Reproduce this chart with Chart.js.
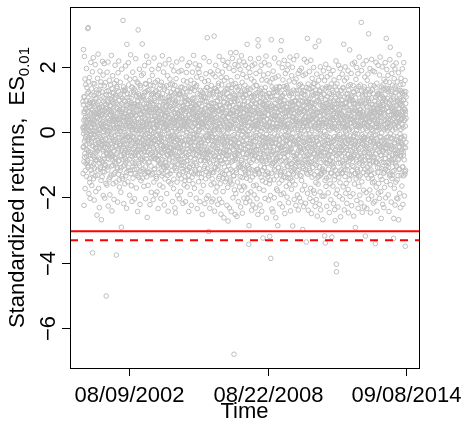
<!DOCTYPE html>
<html>
<head>
<meta charset="utf-8">
<script src="https://cdn.jsdelivr.net/npm/chart.js@4.4.1/dist/chart.umd.min.js"></script>
<style>
  html, body { margin: 0; padding: 0; background: #fff; }
  canvas { display: block; }
</style>
</head>
<body>
<canvas id="esChart" width="463" height="421"></canvas>
<script>
// odd trading days (50 days per line)
const dayStep = 2;
const returns = [
  0.93, -1.27, 0.16, 2.52, -0.44, 1.08, -2.24, 0.63, 2.31, -0.77, 0.14, 1.62, -1.73, 0.37, -0.21, 1.45, -0.96, 0.68, -0.53, 1.94, -1.36, 0.27, 0.04, -0.92, 1.18,
  0.47, 3.16, -1.08, 0.84, 3.19, -0.26, 1.53, -1.88, 0.24, -0.73, 1.66, 0.91, -1.54, 0.38, -2.03, 0.97, 0.13, -0.62, 2.13, -1.17, 0.58, -0.06, 1.32, -1.63, 0.29,
  -0.41, 1.84, -3.69, 0.66, -1.04, 0.23, 2.27, -1.43, 0.86, -0.18, 1.12, -2.08, 0.52, -0.79, 1.47, 0.02, -1.34, 2.06, -0.48, 0.83, -1.82, 0.31, 1.19, -0.87, 0.57,
  1.03, -2.54, 0.42, -0.57, 1.64, -1.16, 0.18, 2.38, -0.33, 0.94, -1.72, 0.61, -0.07, 1.28, -2.31, 0.73, -0.84, 1.86, 0.08, -1.13, 0.49, -0.36, 1.42, -1.48, 0.26,
  -2.68, 0.77, -0.24, 1.23, -1.37, 0.54, 2.16, -0.93, 0.12, 1.74, -1.94, 0.43, -0.59, 1.04, -0.27, 2.09, -1.22, 0.64, -2.02, 0.88, 0.17, -1.03, 1.51, -0.46, 0.72,
  0.28, -5.01, 1.14, -0.66, 0.61, -1.62, 1.83, 0.03, -1.07, 0.92, -0.38, 2.14, -2.26, 0.41, 1.27, -0.83, 0.24, -1.44, 1.58, -0.17, 0.66, -1.92, 1.02, -0.64, 0.53,
  1.43, -0.52, 0.79, -1.31, 2.34, -0.08, 0.62, -2.41, 0.98, -0.74, 0.33, 1.72, -1.02, 0.47, -1.58, 1.21, -0.28, 0.87, -2.06, 0.13, 1.49, -0.92, 0.39, -1.24, 2.04,
  -0.23, 1.13, -0.82, 0.46, -1.53, 0.89, -3.76, 1.57, -0.43, 0.19, 1.34, -1.08, 0.71, -2.14, 0.03, 1.81, -0.58, 0.42, -1.29, 2.17, -0.88, 0.63, 0.97, -1.68, 0.27,
  0.82, -1.18, 1.52, -0.34, 0.43, -1.84, 1.07, -0.71, -2.91, 0.58, 1.92, -0.49, 0.22, -1.43, 1.03, -0.12, 0.69, 3.41, -1.04, 0.32, 1.38, -2.19, 0.48, -0.63, 1.24,
  -0.37, 0.94, -1.58, 1.27, 0.11, -0.82, 2.02, -1.34, 0.57, -0.23, 1.68, -2.33, 0.42, 2.68, -0.88, 0.82, -0.14, 1.17, -1.52, 0.47, -0.58, 2.12, -1.09, 0.34, 0.87,
  1.06, -0.53, 0.28, -1.93, 1.61, -0.24, 0.73, -1.17, 2.36, -0.72, 0.18, 1.03, -1.64, 0.54, -0.26, 1.37, -2.12, 0.78, -0.93, 0.07, 1.83, -1.41, 0.59, -0.13, 1.22,
  0.38, -0.97, 1.32, -0.63, 0.86, -2.04, 0.21, 1.63, -1.27, 0.52, -0.42, 2.24, -0.79, 1.13, -1.71, 0.03, 0.68, -1.14, 1.53, -0.32, 0.81, -2.43, 0.96, -0.54, 3.12,
  -0.73, 1.17, 0.29, -1.38, 0.84, -0.17, 1.92, -1.03, 0.53, -2.21, 1.42, -0.61, 0.08, 1.04, -1.49, 0.57, -0.34, 1.73, -0.87, 0.44, -1.21, 2.69, 0.19, -0.83, 1.07,
  0.63, -1.13, 1.78, -0.42, 0.24, -1.66, 1.12, 0.87, -0.62, 2.03, -1.28, 0.43, -0.08, 1.48, -2.04, 0.71, -0.47, 1.23, -0.82, 0.27, 2.32, -1.37, 0.76, -2.61, 0.04,
  1.27, -0.32, 0.52, -1.63, 0.97, -0.93, 2.13, -0.17, 0.68, -1.23, 1.57, -0.52, 0.23, -2.22, 0.92, -0.68, 1.43, 0.06, -1.04, 0.61, -1.84, 1.12, -0.43, 1.91, -0.06,
  -0.63, 1.73, -1.28, 0.36, 0.82, -2.07, 1.18, -0.27, 0.62, -1.53, 2.26, -0.81, 0.12, 1.03, -1.12, 0.48, -0.23, 1.52, -1.92, 0.69, -0.64, 1.27, 0.32, -1.42, 0.93,
  0.17, -1.83, 1.13, -0.48, 1.58, -0.87, 0.42, -2.34, 1.93, 0.02, -0.72, 1.18, -1.24, 0.63, -0.31, 2.04, -1.62, 0.79, -0.07, 1.43, -0.98, 0.53, -2.03, 1.02, -0.41,
  1.52, -0.18, 0.71, -1.34, 0.28, 2.33, -0.84, 1.04, -1.68, 0.37, -0.53, 1.83, -1.07, 0.13, 0.91, -2.23, 1.31, -0.57, 0.48, -1.43, 2.08, -0.32, 0.77, -0.94, 0.23,
  -1.02, 0.58, -0.43, 1.41, -1.88, 0.93, 0.08, -1.21, 1.72, -0.68, 0.27, -2.42, 1.07, -0.13, 0.74, -1.52, 2.21, -0.47, 0.98, -0.83, 0.42, 1.62, -1.27, 0.21, -0.63,
  0.78, -1.58, 1.22, -0.28, 0.53, -1.04, 2.02, -0.62, 0.01, 1.47, -2.12, 0.69, -0.91, 1.13, -0.18, 0.39, -1.73, 1.87, -0.42, 0.92, -1.08, 0.28, 1.43, -2.32, 0.57,
  0.32, -2.47, 0.87, -0.74, 1.63, -1.18, 0.47, -0.23, 2.14, -1.53, 0.82, -0.47, 1.28, -1.93, 0.18, 1.02, -0.77, 0.58, -1.32, 1.84, -0.08, 0.43, -2.04, 1.17, -0.62,
  1.13, -0.38, 0.63, -1.82, 1.37, 0.21, -0.93, 1.88, -1.43, 0.48, -0.28, 2.23, -1.12, 0.77, -0.57, 1.22, -2.18, 0.34, 0.68, -1.03, 1.57, -0.53, 0.07, -1.62, 0.92,
  -0.78, 1.32, -1.48, 0.38, 0.94, -2.13, 1.08, -0.22, 0.63, -1.18, 1.82, -0.73, 0.18, 1.53, -1.68, 0.73, -0.38, 2.03, -0.87, 0.33, 0.97, -1.33, 0.52, -2.43, 1.38,
  0.53, -1.07, 2.12, -0.58, 0.06, 1.23, -1.91, 0.77, -0.32, 1.58, -0.98, 0.41, -2.24, 0.88, -0.52, 1.32, -1.38, 0.17, 1.83, -0.68, 0.62, -1.58, 1.04, -0.19, 2.34,
  -1.28, 0.73, -0.17, 1.48, -1.72, 0.28, 1.03, -0.82, 2.08, -1.22, 0.47, -0.53, 1.38, -2.02, 0.82, -0.08, 1.68, -1.03, 0.43, -2.34, 1.17, -0.57, 0.58, 1.93, -0.43,
  0.87, -1.52, 0.38, -0.73, 1.82, -1.12, 0.07, 2.03, -2.13, 0.68, -0.34, 1.27, -0.88, 0.53, -1.83, 1.08, -0.42, 0.23, 1.63, -1.27, 0.78, -2.52, 0.98, -0.62, 0.27,
  -0.55, 1.16, -1.63, 0.59, -0.24, 2.27, -1.11, 0.93, -0.66, 1.54, -2.19, 0.27, 1.05, -0.87, 0.51, -1.43, 1.78, -0.09, 0.74, -2.03, 1.36, -0.58, 0.16, 2.88, -1.12,
  1.04, -0.79, 0.43, -1.95, 1.57, -0.26, -3.04, 0.81, -1.27, 2.15, -0.62, 0.49, -2.33, 1.19, 0.06, -0.97, 1.84, -0.55, 0.68, -1.61, 1.42, -0.14, 0.89, -2.13, 0.35,
  -1.23, 0.65, -0.42, 1.77, -2.05, 0.29, 1.14, -0.87, 0.71, -1.56, 2.93, -0.08, 1.33, -2.42, 0.56, -0.74, 1.69, -1.08, 0.18, 2.04, -1.83, 0.77, -0.31, 1.26, -0.59,
  0.43, -1.68, 1.25, -0.53, 0.96, -2.21, 1.87, -1.04, 0.08, 1.49, -1.42, 0.64, -0.76, 2.31, -2.05, 0.27, 1.03, -0.19, -1.58, 1.16, -0.63, 0.82, -2.51, 1.67, -0.12,
  -0.88, 1.44, -2.15, 0.69, -0.28, 1.83, -1.26, 0.47, 2.19, -1.82, 0.24, -0.63, 1.05, -2.62, 0.91, -0.36, 1.58, -1.29, 0.41, -0.84, 2.03, -1.52, 0.57, -0.17, 1.32,
  0.79, -1.43, 1.66, -0.73, 0.34, -2.24, 1.18, -0.21, 0.87, -1.69, 2.13, -2.72, 0.45, 1.41, -1.03, 0.12, -0.58, 1.95, -2.32, 0.76, -0.44, 1.08, -1.53, 0.59, 2.42,
  -1.14, 0.53, 1.57, -2.43, 0.92, -0.46, 1.23, -1.59, 0.28, 2.25, -0.88, 0.67, -2.01, 1.44, -0.23, 0.62, -1.35, 1.88, -6.79, 0.39, -1.77, 1.03, -0.72, 2.06, -2.52,
  1.48, -0.81, 0.25, -1.88, 2.43, -1.16, 0.58, -0.44, 1.37, -2.58, 0.75, 1.69, -1.53, 0.09, -0.66, 2.02, -2.13, 0.85, -0.32, 1.14, -1.01, 0.43, 2.17, -1.68, 0.54,
  -0.58, 1.91, -1.36, 0.72, -2.29, 1.15, 0.23, -0.94, 2.33, -1.78, 0.47, -0.26, 1.52, -2.48, 0.83, -1.12, 1.76, 0.02, -1.65, 1.07, -0.51, 2.14, -2.02, 0.61, 1.28,
  0.95, -1.68, 1.43, -0.37, 2.04, -1.23, 0.29, -2.16, 1.12, -0.79, 1.68, -1.41, 0.65, -0.08, 2.68, -2.03, 0.77, -0.62, 1.34, -1.88, 0.42, 1.96, -1.07, -3.43, -2.86,
  1.19, -0.88, 0.54, -2.11, 1.82, -1.47, 0.66, 2.24, -0.28, -1.83, 1.05, -0.57, 1.62, -2.39, 0.21, 0.88, -1.16, 2.03, -0.69, 0.42, -2.23, 1.37, -0.15, 1.12, -1.64,
  -0.42, 1.55, -1.92, 0.76, -0.73, 2.08, -1.29, 0.34, 1.17, -2.32, 0.58, -0.11, 1.79, -1.62, 0.86, -0.53, 1.42, -2.04, 0.23, 0.99, -1.15, 0.68, -2.52, 2.82, 2.63,
  0.57, -1.22, 2.25, -0.78, 0.39, -1.73, 1.28, -0.34, 1.86, -2.23, 0.91, -0.58, 1.07, 0.03, -1.38, 2.04, -0.87, 0.48, -2.42, 1.59, -0.16, 0.82, -1.49, 1.18, -0.53,
  -3.24, 1.03, -0.68, 1.74, -1.78, 0.32, 0.87, -1.09, 2.12, -0.45, 0.58, -2.03, 1.36, -0.19, 0.78, -1.54, 2.32, -0.89, 0.18, -2.63, 1.06, -0.58, 1.57, -1.22, 0.39,
  0.72, -1.37, 1.78, -0.29, 0.54, -2.08, 1.17, -0.78, 2.05, -1.58, 0.28, -3.19, 1.53, -0.46, 0.88, -1.94, 0.07, -3.86, 1.09, -0.68, 2.82, -1.26, 0.62, -2.35, 1.38,
  -0.16, 1.63, -0.97, 0.41, -2.44, 1.86, -0.57, 0.79, -1.46, 1.21, 0.14, -2.01, 2.26, -0.92, 0.47, -1.19, 1.66, -0.36, 0.73, -2.62, 0.99, -0.81, 1.37, -1.74, 0.26,
  1.29, -0.66, 0.61, -1.79, 0.97, -2.86, 0.16, 1.71, -1.09, 0.77, -0.42, 2.11, -1.56, 0.49, -0.21, 1.36, -2.19, 0.92, -0.76, 1.19, -1.31, 2.49, 0.26, -1.91, 2.79,
  -0.86, 1.09, -1.47, 0.66, 1.97, -2.29, 0.41, -0.46, 1.59, -1.01, 0.86, -1.87, 0.19, 1.39, -0.66, 2.19, -1.21, 0.59, -2.49, 0.96, -0.26, 1.79, -1.39, 0.46, -0.09,
  0.59, -1.66, 1.41, -0.29, 0.76, -1.99, 1.89, -1.06, 0.26, -0.59, 2.06, -1.41, 0.66, -2.16, 1.19, 0.01, -0.89, 1.56, -1.59, 0.49, -0.36, 2.29, -0.99, 0.86, -2.41,
  -0.54, 1.23, -1.18, 0.67, -1.75, 1.72, -0.15, 0.91, -1.49, 1.98, 0.33, -2.87, 1.05, -0.72, 0.44, -1.28, 2.21, -0.39, 0.82, -2.06, 1.53, -0.87, 0.25, 0.94, -1.61,
  0.97, -0.81, 0.38, -2.24, 1.62, -0.29, 0.73, -1.35, 2.33, -0.95, 0.52, -1.92, 1.17, -0.64, 0.08, 1.79, -2.38, 0.83, -0.22, 1.26, -1.14, 0.59, -2.01, 1.88, -0.47,
  -1.32, 0.69, 1.46, -0.55, 0.31, -2.13, 1.07, -0.92, 1.95, -1.48, 0.63, -0.17, 1.39, -1.77, 0.94, -2.98, 0.36, 1.73, -1.12, 0.19, -2.28, 1.14, -0.74, 0.81, 2.22,
  0.46, -1.63, 1.24, -0.38, 1.77, -2.18, 0.29, -0.83, 0.95, -3.36, 0.72, -1.25, 2.14, -0.49, 0.21, 2.86, -1.87, 0.93, -0.68, 1.47, -2.39, 0.35, -0.98, 1.33, -0.16,
  -0.72, 1.85, -1.17, 0.59, -2.03, 1.31, -0.26, 0.78, -1.72, 2.19, -0.94, 0.37, -2.49, 1.13, 0.05, -1.38, 1.64, -0.57, 0.89, -2.12, 1.36, -0.23, 0.51, -1.79, 1.97,
  1.13, -0.46, 0.72, -1.87, 1.49, -0.98, 0.15, -2.27, 2.61, -0.82, 1.18, -1.54, 0.39, -2.06, 0.93, -0.25, 1.77, -1.21, 0.58, -2.57, 0.97, -0.63, 1.41, -1.59, 0.28,
  -0.37, 1.58, 2.78, -1.35, 0.49, -2.21, 1.27, -0.74, 0.86, -1.83, 1.99, -0.05, -2.38, 1.08, -0.93, 0.62, -1.27, 1.69, -0.51, 0.27, -1.96, 1.34, -1.12, 0.79, -2.68,
  0.77, -1.19, 1.87, -0.63, 0.38, -1.96, 1.15, -0.29, 1.57, -3.17, 0.64, -1.48, -3.39, 0.99, -0.82, 2.07, -1.66, 0.25, -0.53, 1.38, -2.27, 0.86, -0.97, 1.69, -0.14,
  -0.97, 0.63, 1.35, -1.86, 0.18, -0.73, 1.94, -1.37, 0.89, -2.46, 1.17, -0.35, 0.74, -1.58, 1.76, -0.86, 0.29, -2.07, 1.04, -0.59, 1.47, -1.26, 0.43, -3.21, 0.78,
  1.27, -0.78, 0.36, -1.65, 1.88, -1.04, 0.57, -2.19, 0.96, -0.25, 1.59, -1.46, 0.75, -2.37, 0.14, -0.57, -2.71, 1.38, -1.17, 0.45, 2.17, -1.89, -4.04, -4.27, 0.86,
  -0.46, 1.47, -1.77, 0.65, -0.13, 1.16, -2.29, 0.88, -0.95, 2.04, -1.38, 0.27, 1.66, -1.97, 0.59, -0.66, 1.08, -1.55, 0.37, 1.94, -2.59, 0.76, -0.33, 1.28, -1.15,
  0.57, -1.26, 0.98, -0.54, 1.77, -2.05, 0.27, -0.89, 1.36, -1.68, 0.75, -0.17, 2.68, -1.04, 0.46, -2.38, 1.57, -0.45, 0.88, -1.36, 1.99, -0.77, 0.15, -1.87, 1.16,
  -1.57, 0.89, -0.36, 1.65, -2.18, 0.47, 1.04, -1.16, 0.19, -0.68, 1.87, -1.75, 0.66, -2.47, 1.28, -0.25, 0.58, -1.46, 0.97, 2.51, -0.86, 0.39, -1.97, 1.45, -0.55,
  0.97, -0.43, 1.79, -1.32, 0.26, -2.25, 1.11, -0.79, 0.64, 2.08, -1.03, 0.36, -1.89, 1.42, -0.15, 0.88, -2.57, 1.21, -0.68, 0.44, -1.59, 2.13, -0.38, 0.72, -1.26,
  -2.92, 1.04, -0.57, 1.61, -1.43, 0.37, -0.85, 1.97, -2.09, 0.62, 1.27, -1.14, 0.17, -0.41, 1.78, -2.33, 0.87, -0.24, 1.39, -1.66, 0.52, 2.29, -0.95, 0.59, -1.93,
  0.68, -1.32, 1.44, -0.66, 0.21, -2.17, 0.95, 3.35, -0.73, 1.88, -1.52, 0.46, -2.45, 1.13, -0.37, 0.79, -1.02, 2.07, -0.14, 0.53, -1.78, 1.31, -0.88, 0.24, -2.29,
  -0.22, 1.68, -1.13, 0.86, -3.18, 1.24, -0.51, 0.37, -1.85, 2.18, -0.43, 0.98, -2.34, 0.55, 1.58, -1.22, 0.18, -0.74, 1.77, -1.41, 0.47, -2.05, 3.0, 1.03, -0.87,
  1.15, -0.67, 0.32, -1.77, 1.94, -1.01, 0.58, -2.47, 1.43, -0.27, 0.85, -1.33, 0.07, 2.22, -1.95, 0.61, -0.57, 1.29, -1.55, 0.43, 1.87, -0.82, -2.17, 0.74, -0.31,
  -0.76, 1.41, -1.52, 0.57, 1.84, -2.12, 0.34, -0.48, -3.41, 1.06, -0.95, 0.83, 2.13, -1.68, 0.15, -0.91, 1.49, -2.42, 0.72, -0.28, 1.16, -1.23, 0.51, 2.04, -1.86,
  0.91, -1.57, 1.15, -0.42, 0.68, -2.03, 1.74, -1.09, 0.32, 2.29, -0.71, 1.04, -1.82, 0.49, -0.16, -2.64, 1.38, -0.93, 0.61, -1.45, 1.99, -0.52, 0.84, -2.21, 1.07,
  -0.58, 1.32, -1.26, 0.83, -2.31, 1.61, -0.35, 0.52, -1.69, 0.99, -0.81, 2.12, -1.14, 0.38, -2.01, 1.54, -0.47, 2.86, -1.51, 0.72, 1.91, -0.93, 0.16, -1.18, 1.34,
  1.02, -0.41, 1.73, -1.92, 0.63, -0.97, 1.31, -2.43, 0.88, -0.62, 1.52, -1.34, 2.21, 0.27, 2.59, -1.61, 0.81, -0.18, 1.24, -2.14, 0.53, -0.83, 1.79, -1.42, 0.64,
  -0.92, 1.43, -1.21, 0.71, 2.02, -0.54, 1.01, -3.25, -2.64, 0.42, 1.63, -1.72, 0.58, -0.32, 1.93, -2.23, 0.92, -0.69, 1.31, -1.53, 0.29, 2.11, -1.04, 0.82, -2.02,
  0.52, -1.46, 1.53, -0.63, 0.97, -2.04, 1.28, -0.85, 1.81, -2.68, 0.59, -1.13, 2.36, -0.44, 1.03, -1.87, 0.72, -0.19, 1.45, -2.31, 0.86, -0.73, 1.64, -1.32, 0.38,
  -0.34, 1.22, -1.65, 0.81, 1.93, -1.07, 0.55, -2.21, 1.46, -0.62, 0.98, -1.34, 2.12, -0.47, 0.71, -1.95, 1.13, 0.36, -1.21, 1.58, -3.49, 0.64, -1.17, 1.23, 0.42
];

// even trading days: the dense core of the cloud
const returnsEven = [
  0.12, -0.47, 0.83, -0.05, 0.36, -0.91, 0.58, 0.04, -0.28, 1.07, -0.66, 0.21, -1.18, 0.45, -0.13, 0.72, -0.39, 0.95, -0.02, -0.74, 0.31, 1.36, -0.55, 0.18, -0.87,
  -0.22, 0.64, -1.03, 0.09, 0.41, -0.58, 1.21, -0.16, 0.77, -0.35, 0.03, -1.42, 0.52, -0.08, 0.88, -0.69, 0.27, -0.11, 1.14, -0.93, 0.46, -0.31, 0.15, 0.69, -1.26,
  0.37, -0.19, 0.91, -0.72, 0.06, 1.48, -0.44, 0.25, -0.97, 0.61, -0.07, 0.33, -1.11, 0.79, -0.26, 0.14, -0.63, 1.02, -0.38, 0.55, -0.84, 0.01, 0.47, -0.52, 1.29,
  -0.61, 0.28, -0.04, 0.86, -1.32, 0.43, -0.24, 0.67, 0.11, -0.79, 1.18, -0.33, 0.57, -0.14, -0.95, 0.39, 0.74, -0.49, 0.08, -1.07, 0.62, -0.18, 1.53, -0.41, 0.22,
  0.54, -0.88, 0.17, -0.29, 1.09, -0.53, 0.32, -1.21, 0.76, 0.02, -0.46, 0.93, -0.71, 0.24, -0.12, 1.41, -0.82, 0.49, -0.36, 0.07, -0.99, 0.66, -0.21, 0.84, -1.57,
  -0.09, 0.71, -0.62, 1.24, -0.37, 0.16, -0.81, 0.44, -0.03, 0.98, -1.16, 0.29, -0.57, 0.63, 0.05, -0.42, 1.12, -0.73, 0.35, -0.25, 0.81, -1.38, 0.13, -0.67, 0.52,
  0.81, -0.34, 0.06, -1.04, 0.59, -0.15, 1.33, -0.69, 0.23, -0.48, 0.92, -0.01, -0.86, 0.38, 1.17, -0.59, 0.19, -1.29, 0.65, -0.27, 0.42, -0.78, 1.01, -0.11, 0.34,
  -0.43, 1.06, -0.23, 0.47, -0.96, 0.14, 0.73, -0.32, 1.39, -0.64, 0.26, -1.13, 0.58, -0.06, 0.85, -0.51, 0.11, -0.89, 1.23, -0.17, 0.39, -1.46, 0.68, -0.36, 0.03,
  0.26, -0.73, 1.15, -0.41, 0.02, -1.09, 0.63, 0.37, -0.18, 0.87, -0.56, 0.13, -1.35, 0.71, -0.29, 0.48, 1.27, -0.84, 0.09, -0.45, 0.96, -0.22, -0.68, 0.56, -1.01,
  -0.77, 0.44, -0.12, 1.31, -0.58, 0.21, -0.94, 0.67, -0.07, 0.35, -1.24, 0.82, -0.39, 0.16, 1.05, -0.62, 0.28, -0.16, 0.74, -1.17, 0.51, -0.03, 1.44, -0.48, 0.19,
  0.63, -0.26, 0.94, -0.83, 0.15, -0.41, 1.19, -0.09, 0.52, -1.27, 0.36, -0.64, 0.07, 0.89, -0.33, 1.37, -0.75, 0.24, -0.14, 0.61, -1.06, 0.43, -0.52, 0.12, 0.78,
  -0.18, 0.57, -1.14, 0.32, 0.83, -0.47, 0.08, -0.71, 1.26, -0.23, 0.49, -0.95, 0.18, -0.36, 1.08, -0.61, 0.27, 0.64, -1.33, 0.05, -0.28, 0.92, -0.57, 1.49, -0.04,
  0.41, -0.96, 0.23, 0.67, -0.31, 1.12, -0.54, 0.06, -1.19, 0.78, -0.17, 0.34, -0.82, 1.35, -0.09, 0.55, -0.43, 0.14, 0.97, -0.66, 0.29, -1.41, 0.71, -0.24, 0.08,
  -0.52, 0.18, 1.04, -0.37, 0.61, -0.13, -0.89, 0.42, 1.21, -0.58, 0.03, -0.29, 0.76, -1.07, 0.37, -0.19, 1.46, -0.72, 0.22, -0.46, 0.88, -0.05, -1.23, 0.59, 0.31,
  0.09, -0.62, 0.49, -1.22, 0.86, -0.27, 0.17, 1.29, -0.44, 0.63, -0.91, 0.26, -0.12, 0.81, -0.67, 1.03, -0.35, 0.05, -1.31, 0.47, 0.69, -0.21, 0.38, -0.79, 1.16,
  -0.34, 0.87, -0.16, 0.28, -0.74, 1.42, -0.49, 0.11, -0.03, 0.69, -1.15, 0.53, -0.26, 0.96, 0.14, -0.58, 1.22, -0.81, 0.32, -0.07, 0.48, -1.36, 0.75, -0.41, 0.23,
  0.72, -0.11, -0.83, 0.36, 1.11, -0.55, 0.24, -1.03, 0.58, -0.32, 0.81, 0.07, -0.69, 1.33, -0.22, 0.45, -0.97, 0.16, 0.65, -0.39, 1.07, -0.62, -0.14, 0.29, -1.19,
  -0.27, 0.39, -0.92, 0.54, -0.08, 1.17, -0.63, 0.31, -1.26, 0.84, 0.12, -0.45, 0.67, -0.19, 1.38, -0.76, 0.04, 0.52, -1.09, 0.26, -0.51, 0.93, -0.33, 0.61, 0.17,
  0.48, -1.06, 0.21, 0.79, -0.36, 0.05, -0.71, 1.24, -0.15, 0.57, -1.32, 0.34, -0.59, 0.93, -0.04, 0.42, -0.88, 1.08, -0.24, 0.13, -0.65, 0.77, 1.45, -0.47, -0.12,
  -0.69, 0.33, -0.21, 1.09, -0.48, 0.71, -1.18, 0.18, 0.46, -0.38, 0.99, -0.76, 0.27, -0.09, 1.31, -0.57, 0.62, -1.44, 0.36, -0.13, 0.84, -0.31, 0.07, 1.19, -0.92,
  0.14, -0.58, 0.96, -0.19, 0.43, -1.11, 0.68, -0.42, 0.01, 1.26, -0.73, 0.37, -0.25, 0.59, -0.98, 0.22, 1.14, -0.49, 0.09, -0.84, 0.53, -0.16, 0.78, -1.29, 0.41,
  -0.46, 1.18, -0.33, 0.12, -0.85, 0.64, 0.28, -1.02, 0.49, -0.17, 0.91, -0.61, 1.37, -0.28, 0.06, -0.72, 0.44, -1.21, 0.81, 0.19, -0.37, 0.68, -0.94, 0.25, 1.06,
  0.32, -0.27, 0.74, -1.37, 0.18, 0.56, -0.64, 1.02, -0.11, 0.39, -0.89, 0.63, -0.03, 1.23, -0.52, 0.27, -1.14, 0.86, -0.41, 0.11, 0.97, -0.69, 0.35, -0.23, -1.48,
  -0.13, 0.68, -1.08, 0.43, -0.34, 0.92, -0.18, 1.34, -0.77, 0.21, -0.46, 0.04, 0.76, -1.23, 0.58, -0.29, 1.01, -0.54, 0.15, 0.69, -1.02, 0.38, -0.07, 0.87, -0.61,
  0.56, -0.84, 0.29, -0.06, 1.27, -0.42, 0.63, -1.16, 0.24, 0.83, -0.32, 0.09, -0.97, 0.51, -0.15, 1.43, -0.68, 0.34, -0.24, 0.73, -1.28, 0.18, 0.49, -0.56, 0.02,
  -0.38, 0.17, 0.85, -0.62, 0.35, -1.27, 0.07, 0.61, -0.21, 1.15, -0.53, 0.28, -0.86, 0.97, -0.12, 0.42, -1.39, 0.66, -0.31, 0.14, 1.22, -0.74, 0.26, -0.18, 0.57,
  0.23, -0.69, 0.41, -0.24, 1.08, -0.88, 0.13, -0.44, 0.71, -1.05, 0.33, 1.28, -0.36, 0.08, -0.79, 0.55, -0.13, 0.94, -1.21, 0.39, -0.52, 0.18, 1.36, -0.63, -0.27,
  -0.81, 0.52, -0.09, 0.78, -1.34, 0.26, 0.45, -0.58, 1.13, -0.19, 0.02, -0.92, 0.64, -0.38, 1.27, -0.71, 0.31, -0.04, 0.86, -1.17, 0.48, -0.26, 0.69, 0.11, -1.43,
  0.37, -0.14, 1.21, -0.67, 0.04, -0.39, 0.88, -1.24, 0.52, 0.19, -0.73, 1.06, -0.28, 0.41, -1.09, 0.64, 0.08, -0.47, 1.32, -0.83, 0.23, -0.17, 0.76, -0.98, 0.45,
  -0.25, 0.94, -0.51, 0.13, -1.13, 0.67, -0.32, 1.41, 0.06, -0.78, 0.37, -0.21, 0.82, -1.36, 0.28, -0.59, 1.11, -0.09, 0.53, -0.87, 0.16, 0.71, -1.22, 0.34, -0.46,
  0.61, -0.37, 0.08, -0.96, 0.74, -0.18, 1.19, -0.64, 0.27, -1.41, 0.49, 0.03, -0.55, 0.91, -0.33, 0.19, -1.07, 1.25, -0.42, 0.58, -0.11, -0.81, 0.36, 1.03, -0.69,
  -0.57, 0.29, -1.17, 0.63, -0.04, 0.86, -0.43, 0.14, -0.93, 1.33, -0.26, 0.44, -0.72, 0.07, 1.07, -1.28, 0.55, -0.17, 0.79, -0.61, 0.22, -1.47, 0.91, -0.33, 0.12,
  0.19, -0.92, 0.58, -0.31, 1.36, -0.76, 0.33, -0.12, 0.67, -1.19, 0.11, 0.82, -0.54, 1.17, -0.39, 0.26, -1.33, 0.47, -0.08, 0.94, -0.67, 0.38, -0.23, 1.12, -0.86,
  -0.42, 0.74, -0.27, 1.02, -0.63, 0.09, -1.24, 0.51, 0.36, -0.49, 0.97, -0.15, -0.82, 0.62, -0.06, 1.29, -0.57, 0.18, -1.08, 0.71, -0.34, 0.43, 1.38, -0.71, 0.04,
  0.86, -0.21, 0.39, -1.06, 0.13, 0.67, -0.48, 1.23, -0.87, 0.28, -0.09, 0.73, -1.39, 0.46, 0.05, -0.66, 1.04, -0.29, 0.57, -0.97, 0.24, -0.41, 0.84, -1.16, 0.31,
  -0.15, 0.47, -0.79, 0.22, 1.14, -0.52, 0.08, -1.31, 0.69, -0.24, 0.38, -0.68, 1.27, -0.11, 0.53, -1.02, 0.17, 0.92, -0.44, 0.03, -1.26, 0.61, -0.35, 0.79, -0.58,
  0.44, -1.12, 0.71, -0.08, 0.29, -0.61, 1.31, -0.35, 0.12, 0.84, -0.93, 0.41, -0.19, 1.09, -0.73, 0.26, -0.47, 0.66, -1.37, 0.18, 0.95, -0.27, 0.52, -0.84, 0.06,
  -0.64, 0.21, 1.07, -0.46, 0.58, -1.19, 0.15, -0.29, 0.89, -0.71, 0.32, -0.02, 1.42, -0.56, 0.19, -0.88, 0.73, -1.14, 0.36, -0.18, 0.63, 1.21, -0.79, 0.09, -0.41,
  0.29, -0.53, 0.16, 0.92, -1.28, 0.45, -0.22, 0.78, -0.09, 1.16, -0.67, 0.34, -1.04, 0.57, 0.13, -0.39, 1.34, -0.82, 0.27, 0.61, -0.14, -1.18, 0.85, -0.31, 0.48,
  -0.89, 0.64, -0.37, 0.11, 0.83, -0.16, -1.09, 0.47, 1.25, -0.58, 0.23, -0.74, 0.96, -0.28, 0.06, -1.31, 0.72, -0.45, 1.13, -0.07, 0.39, -0.96, 0.17, 0.68, -0.23,
  0.53, -0.18, 0.89, -0.74, 0.21, -1.26, 0.66, 0.04, -0.42, 1.18, -0.83, 0.31, -0.13, 0.76, -1.47, 0.42, -0.27, 1.06, -0.59, 0.14, 0.81, -0.36, -1.01, 0.55, 0.12,
  -0.31, 1.09, -0.62, 0.27, -0.95, 0.48, 0.16, -0.44, 1.31, -0.23, 0.62, -1.15, 0.38, -0.06, 0.87, -0.69, 1.24, -0.33, 0.09, -0.86, 0.51, -0.19, 0.73, -1.34, 0.25,
  0.17, -0.77, 0.43, -0.12, 1.22, -0.54, 0.36, -1.08, 0.59, 0.07, -0.38, 0.94, -0.61, 1.39, -0.25, 0.12, -0.91, 0.67, -0.47, 1.04, -1.23, 0.33, -0.09, 0.82, -0.56,
  -0.48, 0.35, -1.19, 0.82, -0.17, 0.56, 1.12, -0.66, 0.24, -0.31, 0.73, -1.37, 0.14, 0.97, -0.43, 0.28, -0.78, 1.18, -0.11, 0.46, -0.64, 0.05, 1.33, -0.92, 0.19,
  0.76, -0.43, 0.11, -0.87, 0.64, -0.25, 1.36, -0.13, -0.72, 0.48, -1.04, 0.23, 0.87, -0.52, 0.16, -1.27, 0.69, -0.34, 0.06, 1.11, -0.58, 0.37, -0.19, -1.42, 0.92,
  -0.21, 0.62, -0.51, 1.17, 0.09, -0.96, 0.34, -0.18, 0.81, -1.21, 0.47, -0.04, 0.68, -0.63, 1.28, -0.35, 0.21, -1.13, 0.57, -0.27, 0.93, 0.13, -0.74, 0.41, -1.06,
  0.38, -1.01, 0.77, -0.33, 0.19, 1.27, -0.68, 0.44, -0.15, -0.84, 0.63, -0.39, 1.07, -1.18, 0.31, 0.02, -0.57, 0.88, -0.21, 1.43, -0.92, 0.26, -0.44, 0.59, -0.08,
  -0.73, 0.26, -0.14, 0.96, -0.49, 0.07, -1.34, 0.71, 0.33, -0.62, 1.19, -0.27, 0.52, -0.97, 0.14, 0.78, -1.06, 0.39, -0.31, 1.26, -0.53, 0.18, -0.86, 0.64, 0.03,
  0.64, -0.31, 1.13, -0.58, 0.27, -1.15, 0.49, -0.06, 0.91, -0.74, 0.15, -0.42, 1.36, -0.19, 0.58, -0.93, 0.34, -1.29, 0.76, 0.08, -0.47, 0.99, -0.24, 0.43, -1.11,
  -0.06, 0.83, -0.92, 0.37, -0.26, 1.04, -0.61, 0.21, -1.23, 0.65, 0.41, -0.34, 0.88, -0.78, 0.12, -0.49, 1.21, -0.15, 0.54, -1.08, 0.29, 0.72, -0.39, 1.47, -0.67,
  0.45, -0.64, 0.18, -1.31, 0.87, -0.09, 0.52, -0.43, 1.28, -0.86, 0.23, 0.68, -0.17, -1.02, 0.39, 1.09, -0.55, 0.11, -0.79, 0.61, -0.28, 1.17, -1.38, 0.32, 0.07,
  -0.58, 0.14, 0.93, -0.39, 0.62, -1.07, 0.27, -0.21, 1.24, -0.67, 0.04, 0.49, -1.32, 0.81, -0.12, 0.36, -0.71, 1.03, -0.47, 0.19, -1.16, 0.66, 0.28, -0.33, 0.84,
  0.21, -0.86, 0.54, -0.13, 1.16, -0.51, 0.38, -1.22, 0.02, 0.74, -0.37, 1.32, -0.62, 0.17, -0.94, 0.48, -0.08, 0.89, -1.41, 0.33, -0.24, 0.67, -0.73, 1.08, -0.45,
  -0.35, 0.71, -0.24, 0.47, -1.14, 0.09, 0.83, -0.68, 0.31, -0.16, 1.37, -0.89, 0.42, 0.06, -0.57, 0.94, -1.25, 0.22, -0.41, 0.63, 1.14, -0.32, 0.15, -0.98, 0.52,
  0.68, -0.47, 0.12, -0.92, 0.39, 1.21, -0.29, 0.57, -1.09, 0.18, -0.63, 0.85, -0.14, 0.44, -1.34, 0.72, 0.26, -0.53, 1.03, -0.21, 0.08, -0.84, 0.49, 1.29, -0.71,
  -0.19, 0.56, -1.28, 0.34, 0.03, -0.66, 0.97, -0.43, 0.18, 1.12, -0.82, 0.29, -0.35, 0.69, -0.07, -1.19, 0.53, 0.84, -0.46, 0.13, -0.94, 1.26, -0.25, 0.39, -0.58,
  0.33, -0.73, 0.86, -0.18, 0.51, -1.24, 0.16, -0.39, 1.34, -0.56, 0.09, 0.62, -0.97, 0.27, -0.13, 1.07, -0.64, 0.45, -1.16, 0.74, -0.31, 0.02, 0.91, -0.48, 0.19,
  -0.84, 0.41, -0.06, 0.77, -0.54, 0.24, -1.03, 1.18, -0.27, 0.36, -0.69, 0.12, 1.41, -0.91, 0.54, -0.22, 0.83, -1.31, 0.07, -0.44, 0.66, -0.12, 1.02, -0.76, 0.29,
  0.49, -0.22, 1.06, -0.81, 0.14, -0.35, 0.72, -1.18, 0.41, 0.06, -0.59, 0.97, -0.28, 1.23, -0.74, 0.31, -0.11, -1.06, 0.58, 0.87, -0.39, 0.23, -1.27, 0.66, -0.04,
  -0.27, 0.85, -0.63, 0.19, 1.32, -0.44, 0.05, -0.91, 0.63, -0.18, 0.44, -1.21, 0.79, -0.06, 0.35, -0.73, 1.16, -0.52, 0.21, -1.37, 0.57, 0.13, -0.29, 0.94, -0.81,
  0.16, -0.48, 0.67, -1.13, 0.32, 0.89, -0.26, 0.51, -0.77, 1.26, -0.08, 0.38, -0.95, 0.61, -0.34, 0.07, 1.08, -1.24, 0.46, -0.19, 0.73, -0.63, 0.28, 1.38, -0.41,
  -0.62, 0.28, -0.17, 1.14, -0.85, 0.43, 0.11, -0.58, 0.92, -1.31, 0.24, -0.36, 0.77, 0.04, -1.07, 0.61, -0.23, 1.29, -0.49, 0.18, -0.78, 0.95, -0.12, 0.37, -1.19,
  0.54, -0.97, 0.31, -0.07, 0.76, -0.52, 1.23, -0.31, 0.14, -1.16, 0.67, 0.39, -0.63, 1.04, -0.19, 0.48, -1.42, 0.22, 0.83, -0.36, 0.06, -0.89, 1.17, -0.26, 0.62,
  -0.11, 0.63, -0.78, 0.39, -1.26, 0.95, 0.17, -0.42, 0.58, -0.09, 1.35, -0.67, 0.26, -0.93, 0.71, -0.21, 0.04, 1.12, -0.55, 0.33, -1.09, 0.49, -0.38, 0.86, 0.15,
  0.72, -0.36, 0.09, 1.19, -0.61, 0.25, -0.88, 0.47, -0.14, 0.83, -1.36, 0.18, 0.56, -0.45, 1.27, -0.71, 0.32, -0.03, -1.12, 0.68, -0.27, 0.91, -0.59, 0.13, 1.44,
  -0.44, 1.02, -0.21, 0.58, -0.93, 0.07, 0.69, -1.22, 0.35, -0.28, 1.15, -0.49, 0.23, -0.81, 0.94, 0.11, -0.64, 1.31, -0.17, 0.42, -1.03, 0.29, 0.76, -0.37, 0.05,
  0.27, -0.59, 1.25, -0.14, 0.41, -1.08, 0.62, -0.33, 0.88, 0.12, -0.76, 0.51, -1.29, 0.36, -0.05, 0.97, -0.42, 0.19, -0.86, 1.16, 0.31, -0.52, 0.73, -0.19, -1.33,
  -0.71, 0.37, 0.06, -0.46, 1.09, -0.83, 0.54, -0.12, 0.77, -1.18, 0.22, 0.65, -0.37, 1.38, -0.56, 0.14, -0.97, 0.48, 0.09, -0.66, 1.21, -0.24, 0.57, -1.04, 0.32,
  0.59, -0.15, 0.92, -0.68, 0.26, -1.33, 0.44, 0.71, -0.29, 0.16, -0.82, 1.13, -0.47, 0.33, -1.14, 0.85, -0.06, 0.52, -0.73, 1.27, -0.32, 0.08, 0.96, -0.61, 0.41,
  -0.16, 0.81, -0.54, 0.23, 1.18, -0.39, 0.63, -1.06, 0.14, 0.47, -0.71, 0.98, -0.22, 1.24, -0.85, 0.36, -0.13, 0.69, -1.28, 0.54, 0.18, -0.48, 0.87, -0.31, 1.07
];

const esLevel = -3.03;      // solid red line
const esForecast = -3.31;   // dashed red line

const xTickDays = [500, 2000, 3500];
const xTickLabels = ['08/09/2002', '08/22/2008', '09/08/2014'];
const yTicks = [-6, -4, -2, 0, 2];

const xMin = -139, xMax = 3640;
const yMin = -7.21, yMax = 3.82;
const fontFam = '"Liberation Sans", Arial, Helvetica, sans-serif';

const points = [];
returns.forEach((v, i) => points.push({ x: 1 + i * dayStep, y: v }));
returnsEven.forEach((v, i) => points.push({ x: 2 + i * dayStep, y: v }));
points.sort((a, b) => a.x - b.x);

const axesPlugin = {
  id: 'rAxes',
  afterDraw(chart) {
    const ctx = chart.ctx;
    const area = chart.chartArea;
    const xs = chart.scales.x;
    const ys = chart.scales.y;
    ctx.save();
    ctx.strokeStyle = '#000';
    ctx.lineWidth = 1;
    ctx.strokeRect(Math.round(area.left) + 0.5, Math.round(area.top) + 0.5,
      Math.round(area.right - area.left), Math.round(area.bottom - area.top));

    ctx.fillStyle = '#000';
    ctx.font = '22px ' + fontFam;
    // x ticks
    ctx.textAlign = 'center';
    ctx.textBaseline = 'alphabetic';
    xTickDays.forEach((d, i) => {
      const px = Math.round(xs.getPixelForValue(d)) + 0.5;
      ctx.beginPath();
      ctx.moveTo(px, area.bottom);
      ctx.lineTo(px, area.bottom + 8);
      ctx.stroke();
      ctx.fillText(xTickLabels[i], px, 402);
    });
    ctx.fillText('Time', (area.left + area.right) / 2, 418);

    // y ticks, labels parallel to the axis
    yTicks.forEach(t => {
      const py = Math.round(ys.getPixelForValue(t)) + 0.5;
      ctx.beginPath();
      ctx.moveTo(area.left - 8, py);
      ctx.lineTo(area.left, py);
      ctx.stroke();
      ctx.save();
      ctx.translate(55, py);
      ctx.rotate(-Math.PI / 2);
      ctx.textAlign = 'center';
      ctx.fillText(t < 0 ? '\u2212' + Math.abs(t) : String(t), 0, 0);
      ctx.restore();
    });

    // y title with subscript
    const main = 'Standardized returns,  ES';
    const sub = '0.01';
    ctx.font = '22px ' + fontFam;
    const wMain = ctx.measureText(main).width;
    ctx.font = '15px ' + fontFam;
    const wSub = ctx.measureText(sub).width;
    const total = wMain + wSub;
    ctx.save();
    ctx.translate(24, (area.top + area.bottom) / 2);
    ctx.rotate(-Math.PI / 2);
    ctx.textAlign = 'left';
    ctx.font = '22px ' + fontFam;
    ctx.fillText(main, -total / 2, 0);
    ctx.font = '15px ' + fontFam;
    ctx.fillText(sub, -total / 2 + wMain, 5);
    ctx.restore();
    ctx.restore();
  }
};

new Chart(document.getElementById('esChart'), {
  type: 'scatter',
  data: {
    datasets: [
      {
        label: 'returns',
        data: points,
        pointStyle: 'circle',
        pointRadius: 2.3,
        pointBorderWidth: 1,
        borderColor: '#bebebe',
        backgroundColor: 'rgba(0,0,0,0)',
        order: 2
      },
      {
        label: 'ES',
        type: 'line',
        data: [{ x: xMin, y: esLevel }, { x: xMax, y: esLevel }],
        borderColor: '#ff0000',
        borderWidth: 2,
        pointRadius: 0,
        order: 1
      },
      {
        label: 'ES forecast',
        type: 'line',
        data: [{ x: xMin, y: esForecast }, { x: xMax, y: esForecast }],
        borderColor: '#ff0000',
        borderWidth: 2,
        borderDash: [8, 7],
        pointRadius: 0,
        order: 1
      }
    ]
  },
  options: {
    responsive: false,
    animation: false,
    devicePixelRatio: 1,
    layout: { padding: { left: 70, right: 44, top: 7, bottom: 53 } },
    plugins: { legend: { display: false }, tooltip: { enabled: false } },
    scales: {
      x: { type: 'linear', min: xMin, max: xMax, display: false },
      y: { type: 'linear', min: yMin, max: yMax, display: false }
    }
  },
  plugins: [axesPlugin]
});
</script>
</body>
</html>
